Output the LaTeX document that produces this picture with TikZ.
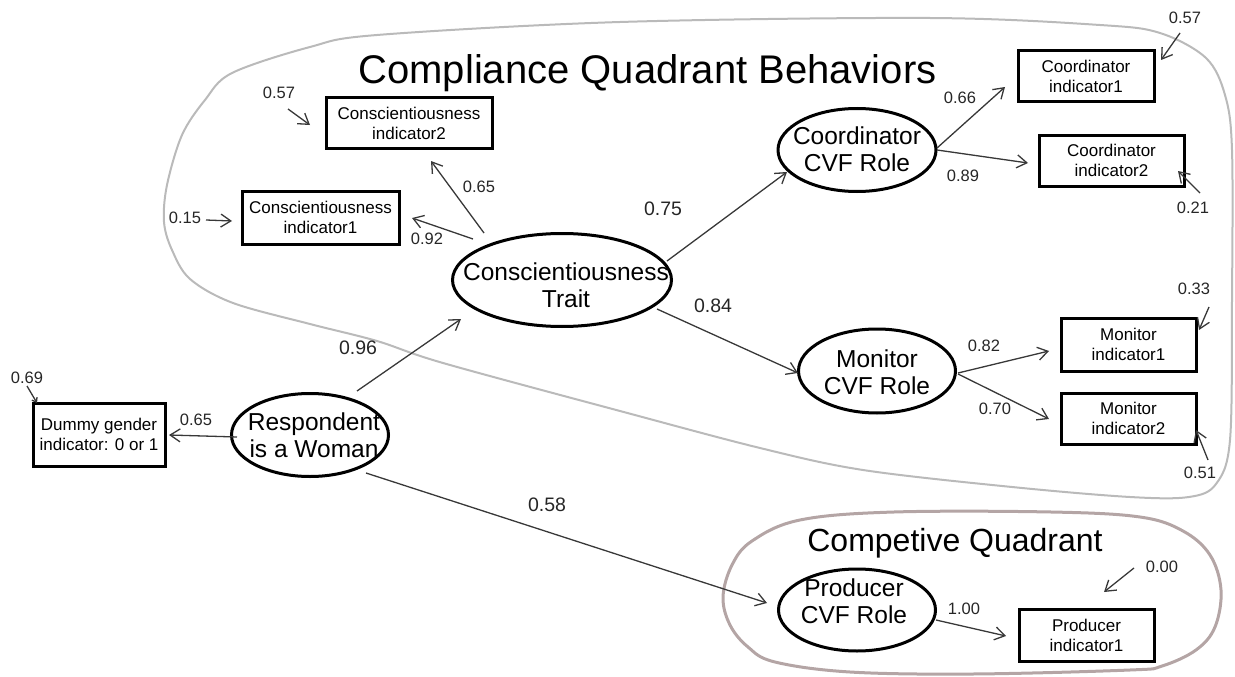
\documentclass[tikz,border=0pt]{standalone}
\usepackage{fontspec}
\setmainfont{Liberation Sans}
\usetikzlibrary{shapes.geometric,arrows.meta,calc}
\begin{document}
\begin{tikzpicture}[x=1pt,y=-1pt,
  boxnode/.style={draw=black,line width=3pt,rectangle,inner sep=0pt,align=center,font=\fontsize{17}{20}\selectfont},
  ellnode/.style={draw=black,line width=3pt,ellipse,inner sep=0pt},
  elltext/.style={inner sep=0pt,align=center,font=\fontsize{24.5}{27}\selectfont},
  arr/.style={draw=black!78,line width=1.3pt,-{Straight Barb[length=10pt,width=13pt]}},
  smallarr/.style={draw=black!78,line width=1.3pt,-{Straight Barb[length=4pt,width=6pt]}},
  numS/.style={inner sep=0pt,font=\fontsize{16.5}{18}\selectfont,text=black!85},
  numM/.style={inner sep=0pt,font=\fontsize{19.5}{22}\selectfont,text=black!85},
  blobA/.style={draw=black!27,line width=2pt},
  blobB/.style={draw={rgb,255:red,180;green,165;blue,165},line width=3pt},
]
\useasboundingbox (0,0) rectangle (1235,677);

% group outlines
\draw[blobA] plot[smooth cycle, tension=0.55] coordinates {(232,73) (310,47) (377,35) (620,22) (930,18) (1100,25) (1160,33) (1206,58) (1225,95) (1232,150) (1232,300) (1230,440) (1216,484) (1189,497) (1130,497) (1012,487) (863,470) (760,448) (620,411) (443,363) (377,341) (310,324) (233,303) (190,279) (172,250) (164,222) (167,185) (182,135) (205,100)};
\draw[blobB] plot[smooth cycle, tension=0.6] coordinates {(723,597) (732,565) (752,541) (800,520) (894,512) (1051,512) (1140,517) (1183,531) (1210,555) (1221,590) (1215,627) (1196,650) (1162,666) (1130,670) (973,674) (850,672) (775,662) (748,647) (730,625)};

% titles
\node[anchor=base,inner sep=0pt,font=\fontsize{40}{46}\selectfont] (title) at (647.5,84) {Compliance Quadrant Behaviors};
\node[anchor=base,inner sep=0pt,font=\fontsize{32}{38}\selectfont] (comp) at (955,551) {Competive Quadrant};

% observed indicators
\node[boxnode,minimum width=166pt,minimum height=50pt] (ci2) at (409,123) {Conscientiousness\\indicator2};
\node[boxnode,minimum width=157pt,minimum height=53pt] (ci1) at (320.5,217.5) {Conscientiousness\\indicator1};
\node[boxnode,minimum width=136pt,minimum height=51pt] (coi1) at (1086,76.5) {Coordinator\\indicator1};
\node[boxnode,minimum width=145pt,minimum height=51pt] (coi2) at (1111.5,160.5) {Coordinator\\indicator2};
\node[boxnode,minimum width=135pt,minimum height=53pt] (mi1) at (1128.5,344.5) {Monitor\\indicator1};
\node[boxnode,minimum width=135pt,minimum height=51pt] (mi2) at (1128.5,418.5) {Monitor\\indicator2};
\node[boxnode,minimum width=132pt,minimum height=63pt] (dg) at (99,434.5) {Dummy gender\\indicator: 0 or 1};
\node[boxnode,minimum width=135pt,minimum height=52pt] (pi1) at (1086.5,635) {Producer\\indicator1};

% latent variables
\node[ellnode,minimum width=219pt,minimum height=93pt] (ct) at (562,280) {};
\node[ellnode,minimum width=158pt,minimum height=83pt] (coord) at (857,150) {};
\node[ellnode,minimum width=157pt,minimum height=84pt] (mon) at (877,371) {};
\node[ellnode,minimum width=157pt,minimum height=83pt] (resp) at (310,435) {};
\node[ellnode,minimum width=157pt,minimum height=82pt] (prod) at (857,610) {};
\node[elltext] (ctT) at (566,285) {Conscientiousness\\Trait};
\node[elltext] (coordT) at (857,149) {Coordinator\\CVF Role};
\node[elltext] (monT) at (877,372) {Monitor\\CVF Role};
\node[elltext] (respT) at (314,435) {Respondent\\is a Woman};
\node[elltext] (prodT) at (854,601) {Producer\\CVF Role};

% structural paths
\draw[arr] ($(ct)+(-78,-47)$) -- ($(ci2)+(22,38)$);
\draw[arr] ($(ct)+(-89,-41)$) -- ($(ci1)+(91.5,0.5)$);
\draw[arr] ($(ct)+(105,-19)$) -- ($(coord)+(-70,22)$);
\draw[arr] ($(ct)+(95,29)$) -- ($(mon)+(-79,2)$);
\draw[arr] ($(resp)+(47,-44)$) -- ($(ct)+(-101,39)$);
\draw[arr] ($(resp)+(-73,2)$) -- ($(dg)+(70,0.5)$);
\draw[arr] ($(resp)+(56,38)$) -- ($(prod)+(-90,-7)$);
\draw[arr] ($(coord)+(80,-2)$) -- ($(coi1)+(-81,10.5)$);
\draw[arr] ($(coord)+(80,0)$) -- ($(coi2)+(-83.5,2.5)$);
\draw[arr] ($(mon)+(81,2)$) -- ($(mi1)+(-79.5,6.5)$);
\draw[arr] ($(mon)+(81,3)$) -- ($(mi2)+(-79.5,0.5)$);
\draw[arr] ($(prod)+(79,10)$) -- ($(pi1)+(-80.5,1)$);

% error terms
\coordinate (e1) at (288,109);
\coordinate (e2) at (206,220);
\coordinate (e3) at (1180,33);
\coordinate (e4) at (1200,193);
\coordinate (e5) at (1209,307);
\coordinate (e6) at (1208,460);
\coordinate (e7) at (27,386);
\coordinate (e8) at (1134,568);
\draw[arr] (e1) -- ($(ci2)+(-99,2)$);
\draw[arr] (e2) -- ($(ci1)+(-88.5,3.5)$);
\draw[arr] (e3) -- ($(coi1)+(75,-16.5)$);
\draw[arr] (e4) -- ($(coi2)+(66.5,10.5)$);
\draw[arr] (e5) -- ($(mi1)+(70.5,-14.5)$);
\draw[arr] (e6) -- ($(mi2)+(67.5,11.5)$);
\draw[smallarr] (e7) -- ($(dg)+(-62,-31.5)$);
\draw[arr] (e8) -- ($(pi1)+(17.5,-43)$);

% coefficients
\node[numS] (l1) at (479,187) {0.65};
\node[numS] (l2) at (427,239) {0.92};
\node[numM] (l3) at (663,209) {0.75};
\node[numM] (l4) at (713,306) {0.84};
\node[numM] (l5) at (358,348) {0.96};
\node[numS] (l6) at (196,420) {0.65};
\node[numM] (l7) at (547,505) {0.58};
\node[numS] (l8) at (960,98) {0.66};
\node[numS] (l9) at (963,176) {0.89};
\node[numS] (l10) at (984,346) {0.82};
\node[numS] (l11) at (995,409) {0.70};
\node[numS] (l12) at (964,609) {1.00};
\node[numS] (l13) at (279,93) {0.57};
\node[numS] (l14) at (185,218) {0.15};
\node[numS] (l15) at (1185,18) {0.57};
\node[numS] (l16) at (1193,208) {0.21};
\node[numS] (l17) at (1194,289) {0.33};
\node[numS] (l18) at (1200,473) {0.51};
\node[numS] (l19) at (27,378) {0.69};
\node[numS] (l20) at (1162,567) {0.00};
\end{tikzpicture}
\end{document}
